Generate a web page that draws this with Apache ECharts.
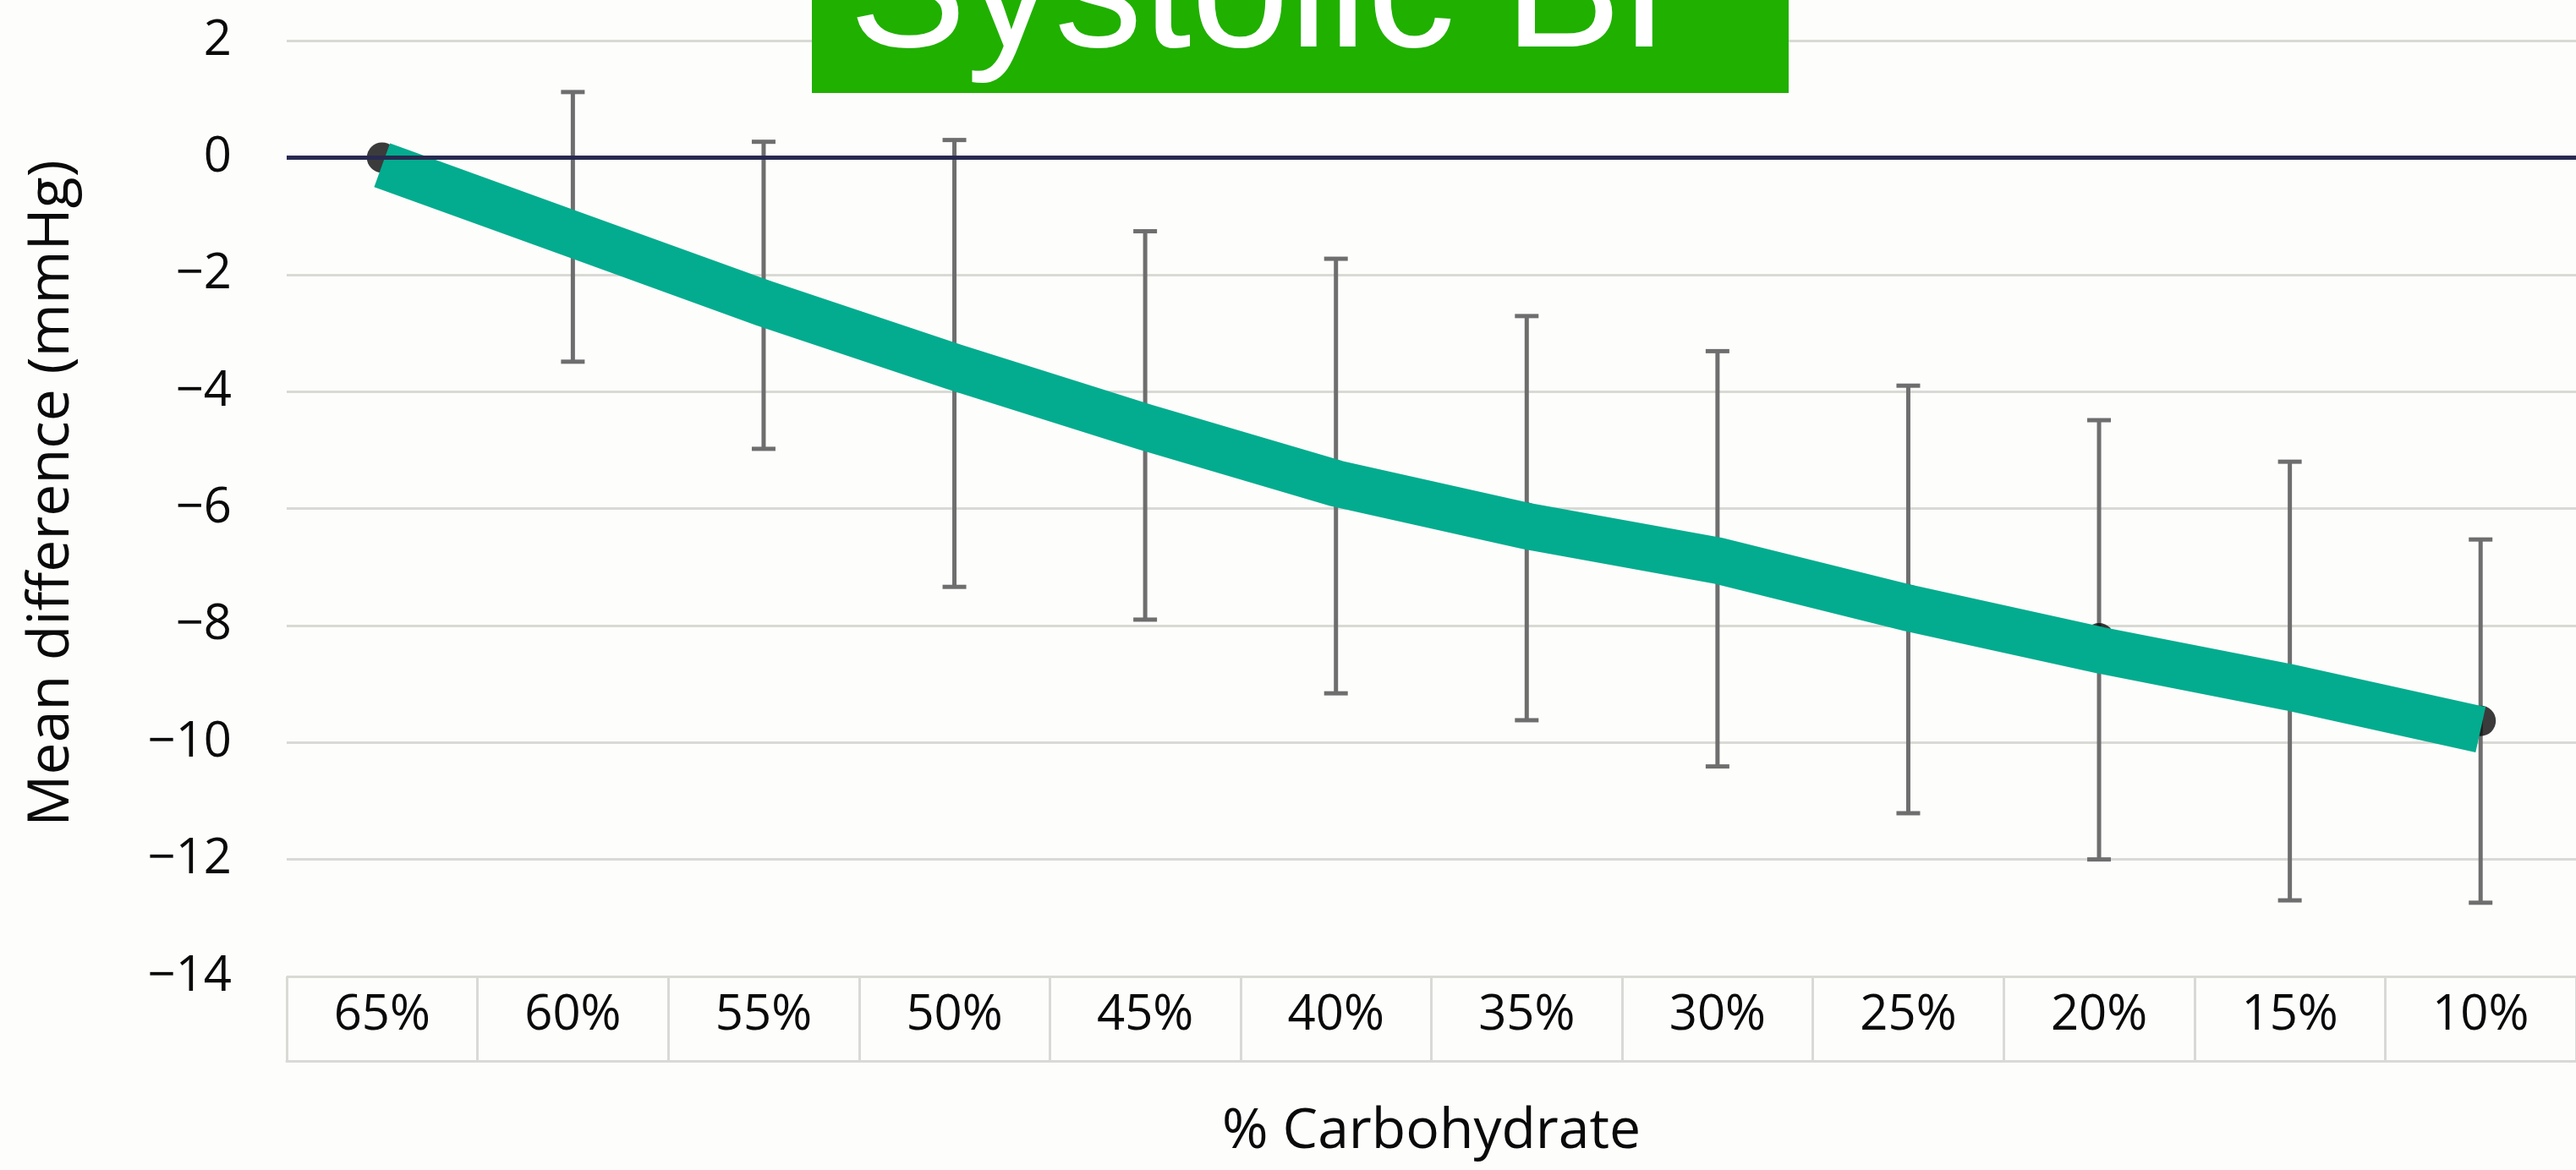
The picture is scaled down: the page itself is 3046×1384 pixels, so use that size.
<!DOCTYPE html>
<html>
<head>
<meta charset="utf-8">
<title>Systolic BP</title>
<script src="https://cdn.jsdelivr.net/npm/echarts@6/dist/echarts.min.js"></script>
<style>
  html, body { margin: 0; padding: 0; background: #fdfdfc; }
  #chart { width: 3046px; height: 1384px; }
</style>
</head>
<body>
<div id="chart"></div>
<script>
// Carbohydrate share of energy intake (x axis)
const categories = ['65%', '60%', '55%', '50%', '45%', '40%', '35%', '30%', '25%', '20%', '15%', '10%'];

// Mean difference in systolic BP vs. 65% carbohydrate (mmHg)
const meanDiff = [0, -1.18, -2.35, -3.52, -4.58, -5.44, -6.16, -6.86, -7.56, -8.22, -8.95, -9.63];

// 95% confidence interval bounds (reference category has none)
const ciLower = [null, -3.49, -4.98, -7.34, -7.90, -9.16, -9.62, -10.41, -11.21, -12.00, -12.70, -12.74];
const ciUpper = [null, 1.12, 0.27, 0.30, -1.26, -1.73, -2.71, -3.31, -3.90, -4.49, -5.20, -6.53];

// Highlighted trend line
const trendLine = [-0.13, -1.31, -2.49, -3.58, -4.61, -5.57, -6.30, -6.89, -7.70, -8.42, -9.06, -9.78];

// Value axis range and tick step
const yMin = -14;
const yMax = 2;
const yStep = 2;

const FONT = '"Open Sans", "Noto Sans", sans-serif';
const GRID_COLOR = '#d9d9d5';
const TEXT_COLOR = '#0a0a0a';

const errorBarData = categories
  .map((c, i) => [i, ciLower[i], ciUpper[i]])
  .filter(d => d[1] != null && d[2] != null);

function renderErrorBar(params, api) {
  const x = api.value(0);
  const lo = api.coord([x, api.value(1)]);
  const hi = api.coord([x, api.value(2)]);
  const half = 14;
  const style = { stroke: '#6e6e6e', lineWidth: 5 };
  return {
    type: 'group',
    children: [
      { type: 'line', shape: { x1: lo[0], y1: lo[1], x2: hi[0], y2: hi[1] }, style },
      { type: 'line', shape: { x1: hi[0] - half, y1: hi[1], x2: hi[0] + half, y2: hi[1] }, style },
      { type: 'line', shape: { x1: lo[0] - half, y1: lo[1], x2: lo[0] + half, y2: lo[1] }, style }
    ]
  };
}

const chart = echarts.init(document.getElementById('chart'), null, { renderer: 'canvas' });

chart.setOption({
  animation: false,
  backgroundColor: '#fdfdfc',
  grid: { left: 339, right: 0, top: 48, bottom: 229, containLabel: false, outerBoundsMode: 'none' },
  xAxis: {
    type: 'category',
    data: categories,
    position: 'bottom',
    offset: 100,
    axisLine: { show: true, onZero: false, lineStyle: { color: GRID_COLOR, width: 3 } },
    axisTick: { show: true, inside: true, length: 100, interval: 0, lineStyle: { color: GRID_COLOR, width: 3 } },
    axisLabel: { inside: true, margin: 25, color: TEXT_COLOR, fontSize: 58, fontFamily: FONT, interval: 0 },
    splitLine: { show: false },
    name: '% Carbohydrate',
    nameLocation: 'middle',
    nameGap: 51,
    nameTextStyle: { color: TEXT_COLOR, fontSize: 66, fontFamily: FONT }
  },
  yAxis: {
    type: 'value',
    min: yMin,
    max: yMax,
    interval: yStep,
    axisLine: { show: false },
    axisTick: { show: false },
    axisLabel: {
      margin: 65,
      color: TEXT_COLOR,
      fontSize: 58,
      fontFamily: FONT,
      formatter: v => (v < 0 ? '\u2212' + (-v) : String(v))
    },
    splitLine: { show: true, lineStyle: { color: GRID_COLOR, width: 3 } },
    name: 'Mean difference (mmHg)',
    nameLocation: 'middle',
    nameRotate: 90,
    nameGap: 243,
    nameTextStyle: { color: TEXT_COLOR, fontSize: 68, fontFamily: FONT, padding: [0, 0, 0, 36] }
  },
  series: [
    {
      name: '95% CI',
      type: 'custom',
      renderItem: renderErrorBar,
      data: errorBarData,
      z: 2,
      silent: true,
      markLine: {
        silent: true,
        symbol: ['none', 'none'],
        label: { show: false },
        lineStyle: { color: '#272a50', width: 5, type: 'solid' },
        data: [{ yAxis: 0 }]
      }
    },
    {
      name: 'Mean difference',
      type: 'scatter',
      data: meanDiff,
      symbol: 'circle',
      symbolSize: 36,
      itemStyle: { color: '#0a0a0a' },
      z: 3,
      silent: true
    },
    {
      name: 'Trend',
      type: 'line',
      data: trendLine,
      symbol: 'none',
      lineStyle: { color: '#03ac8e', width: 55, cap: 'butt', join: 'miter' },
      z: 4,
      silent: true
    }
  ],
  graphic: [
    {
      type: 'rect',
      z: 100,
      shape: { x: 960, y: -20, width: 1155, height: 130 },
      style: { fill: '#20b000' }
    },
    {
      type: 'text',
      z: 101,
      x: 1004,
      y: -2,
      style: {
        text: 'Systolic BP',
        fill: '#ffffff',
        font: '208px "Liberation Sans", Arial, sans-serif',
        verticalAlign: 'middle',
        align: 'left'
      }
    }
  ]
});
</script>
</body>
</html>
